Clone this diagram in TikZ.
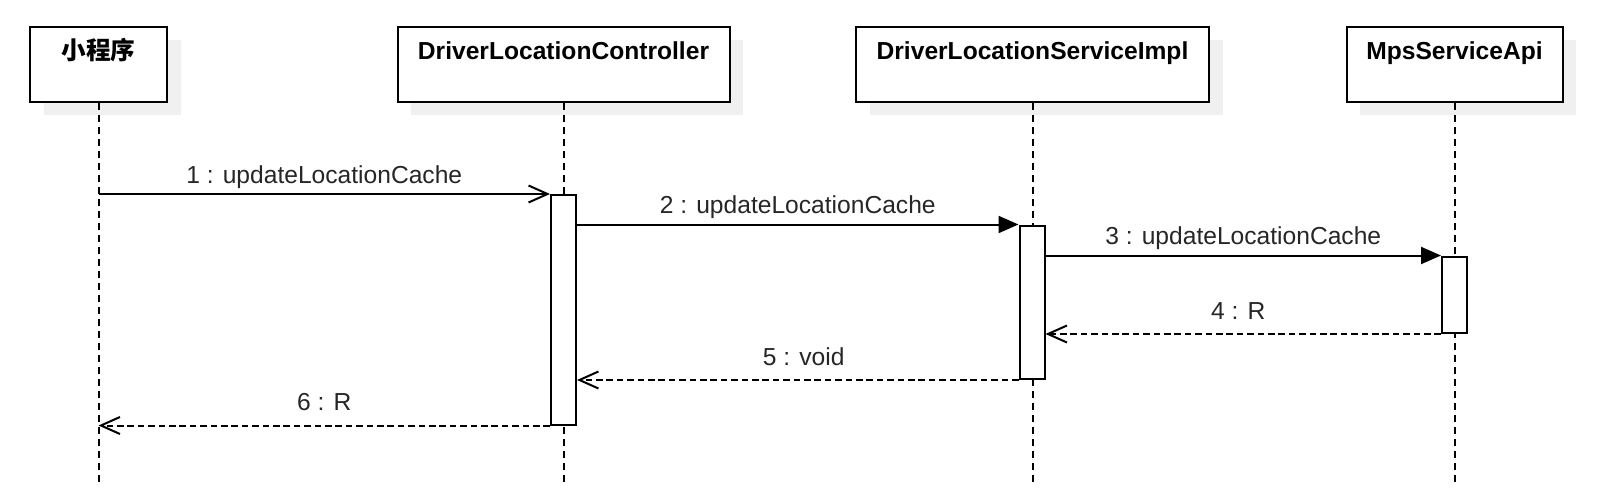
\documentclass[tikz,border=0pt]{standalone}
\usepackage{fontspec}
\setmainfont{Liberation Sans}
\newfontfamily\cjk{Noto Sans CJK SC}
\usetikzlibrary{arrows.meta,shadows,positioning}

\begin{document}
\begin{tikzpicture}[
                                x = 0.5pt,
                                y = -0.5pt,
                                line width = 1pt,
                                font = \fontsize{12.3}{14}\selectfont
                                ]

                                \tikzstyle{head}=[
                                        draw = black,
                                        fill = white,
                                        general shadow = {fill = black!6, shadow xshift = 6.8pt, shadow yshift = -6.3pt},
                                        font = \fontsize{12.3}{14}\selectfont\bfseries,
                                        inner ysep = 0pt,
                                        text height = 16.15pt,
                                        text depth = 21.35pt
                                ]
                                \tikzstyle{bar}=[
                                        draw = black,
                                        fill = white,
                                        minimum width = 12.5pt,
                                        inner sep = 0pt
                                ]
                                \tikzstyle{lifeline}=[dash pattern = on 3.5pt off 2.5pt]
                                \tikzstyle{first}=[-{Straight Barb[length = 9.5pt, width = 8.5pt]}]
                                \tikzstyle{call}=[-{Triangle[length = 10pt, width = 8.5pt]}]
                                \tikzstyle{reply}=[dash pattern = on 3.3pt off 1.9pt, -{Straight Barb[length = 9.5pt, width = 8.5pt]}]
                                \tikzstyle{msg}=[text = black!85, text depth = 0pt, inner sep = 0pt, above = 5pt]
                                \tikzstyle{back}=[msg, above = 7pt]

                                \useasboundingbox (0,0) rectangle (1600,503);

                                \node[head, minimum width = 68.5pt] (h1) at (98.5,64.5) {\cjk 小程序};
                                \node[head, minimum width = 166pt] (h2) at (563.5,64.5) {DriverLocationController};
                                \node[head, minimum width = 176.5pt] (h3) at (1032.5,64.5) {DriverLocationServiceImpl};
                                \node[head, minimum width = 108pt] (h4) at (1454.5,64.5) {MpsServiceApi};

                                \coordinate (e1) at (98.5,485);
                                \coordinate (e2) at (563.5,485);
                                \coordinate (e3) at (1032.5,485);
                                \coordinate (e4) at (1454.5,485);

                                \draw[lifeline] (h1) -- (e1);
                                \draw[lifeline] (h2) -- (e2);
                                \draw[lifeline] (h3) -- (e3);
                                \draw[lifeline] (h4) -- (e4);

                                \node[bar, minimum height = 114.75pt] (a1) at (563.5,309.75) {};
                                \node[bar, minimum height = 76.75pt] (a2) at (1032,302.25) {};
                                \node[bar, minimum height = 38.25pt] (a3) at (1454.5,294.75) {};

                                \draw[first] (h1 |- a1.north) -- (a1.north west) node [msg, midway] {1 : updateLocationCache};
                                \draw[call] (a1.east |- a2.north) -- (a2.north west) node [msg, midway] {2 : updateLocationCache};
                                \draw[call] (a2.east |- a3.north) -- (a3.north west) node [msg, midway] {3 : updateLocationCache};
                                \draw[reply] (a3.south west) -- (a2.east |- a3.south) node [back, midway, xshift = -2.5pt] {4 : R};
                                \draw[reply] (a2.south west) -- (a1.east |- a2.south) node [back, midway, xshift = 3pt] {5 : void};
                                \draw[reply] (a1.south west) -- (h1 |- a1.south) node [back, midway] {6 : R};
                       \end{tikzpicture}
\end{document}
